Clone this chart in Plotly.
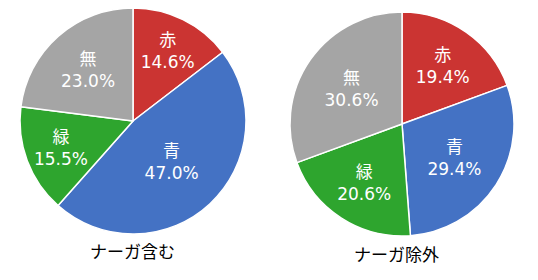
import plotly.graph_objects as go

labels = ["赤", "青", "緑", "無"]
vals_incl = [14.6, 47.0, 15.5, 23.0]
vals_excl = [19.4, 29.4, 20.6, 30.6]
titles = ["ナーガ含む", "ナーガ除外"]
colors = ["#CB3432", "#4472C4", "#2EA52E", "#A5A5A5"]

W, H = 538, 280
FONT = "DejaVu Sans, Noto Sans CJK JP"

def dom(cx, cy, r):
    return dict(x=[(cx - r) / W, (cx + r) / W], y=[1 - (cy + r) / H, 1 - (cy - r) / H])

fig = go.Figure()
for vals, d in [(vals_incl, dom(133, 121, 113)), (vals_excl, dom(402, 124, 112))]:
    fig.add_trace(go.Pie(
        labels=labels, values=vals, sort=False, direction="clockwise", rotation=0,
        marker=dict(colors=colors, line=dict(color="white", width=1.5)),
        texttemplate="%{label}<br>%{value:.1f}%", textposition="inside",
        insidetextorientation="horizontal",
        textfont=dict(color="white", size=17, family=FONT),
        domain=d, showlegend=False, hoverinfo="label+value",
    ))

for t, x, y in [(titles[0], 132, 252), (titles[1], 396, 255)]:
    fig.add_annotation(text=t, x=x / W, y=1 - y / H, xref="paper", yref="paper",
                       showarrow=False, font=dict(size=17, color="black", family=FONT),
                       xanchor="center", yanchor="middle")

fig.update_layout(width=W, height=H, margin=dict(l=0, r=0, t=0, b=0),
                  paper_bgcolor="white", plot_bgcolor="white")
fig.write_html("out.html")
